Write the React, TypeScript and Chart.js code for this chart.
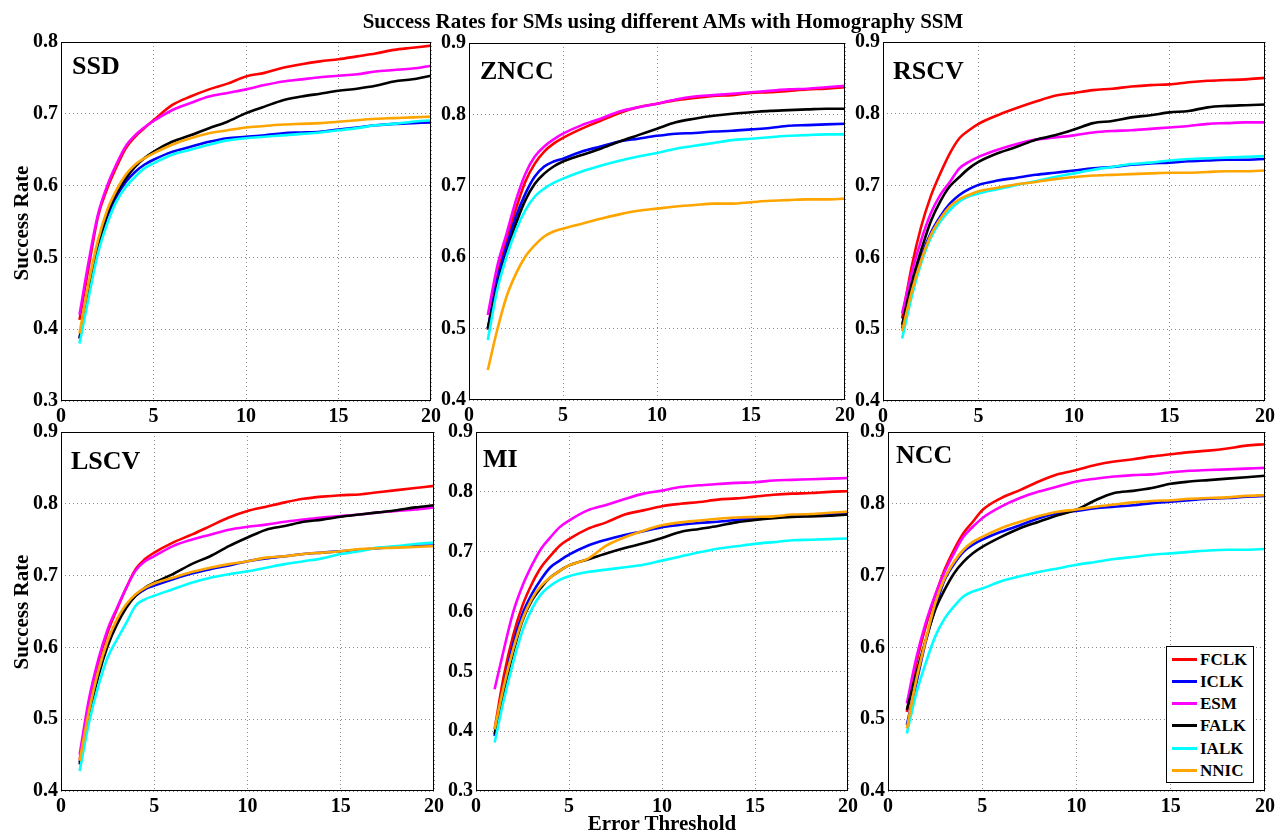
import React, { useEffect, useRef } from 'react';
import { Chart, registerables } from 'chart.js';

Chart.register(...registerables);

// ---------------- data ----------------
const THRESHOLDS = [1, 1.5, 2, 2.5, 3, 3.5, 4, 4.5, 5, 6, 7, 8, 9, 10, 11, 12, 13, 14, 15, 16, 17, 18, 19, 20];
const SERIES_NAMES = ['FCLK', 'ICLK', 'ESM', 'FALK', 'IALK', 'NNIC'];
const SERIES_COLORS = ['#ff0000', '#0000ff', '#ff00ff', '#000000', '#00ffff', '#ffa500'];
const PANEL_NAMES = ['SSD', 'ZNCC', 'RSCV', 'LSCV', 'MI', 'NCC'];
const Y_MIN = [0.3, 0.4, 0.4, 0.4, 0.3, 0.4];
const Y_MAX = [0.8, 0.9, 0.9, 0.9, 0.9, 0.9];
const X_MIN = 0;
const X_MAX = 20;
const X_TICK_STEP = 5;
const Y_TICK_STEP = 0.1;

const SSD_FCLK = [0.413, 0.487, 0.557, 0.596, 0.626, 0.652, 0.668, 0.680, 0.691, 0.712, 0.724, 0.734, 0.742, 0.752, 0.757, 0.764, 0.769, 0.773, 0.776, 0.780, 0.784, 0.789, 0.792, 0.795];
const SSD_ICLK = [0.387, 0.455, 0.515, 0.557, 0.585, 0.605, 0.619, 0.629, 0.636, 0.647, 0.654, 0.661, 0.666, 0.668, 0.670, 0.673, 0.674, 0.675, 0.678, 0.681, 0.684, 0.686, 0.687, 0.688];
const SSD_ESM = [0.420, 0.495, 0.560, 0.600, 0.630, 0.655, 0.670, 0.681, 0.690, 0.705, 0.715, 0.724, 0.729, 0.734, 0.740, 0.745, 0.748, 0.751, 0.753, 0.755, 0.759, 0.761, 0.763, 0.767];
const SSD_FALK = [0.387, 0.455, 0.515, 0.561, 0.589, 0.610, 0.626, 0.638, 0.647, 0.661, 0.670, 0.680, 0.689, 0.701, 0.710, 0.719, 0.724, 0.728, 0.732, 0.735, 0.739, 0.745, 0.748, 0.753];
const SSD_IALK = [0.380, 0.445, 0.506, 0.547, 0.578, 0.598, 0.612, 0.624, 0.631, 0.643, 0.650, 0.657, 0.663, 0.666, 0.668, 0.670, 0.672, 0.674, 0.677, 0.680, 0.684, 0.686, 0.689, 0.691];
const SSD_NNIC = [0.394, 0.465, 0.524, 0.566, 0.594, 0.615, 0.629, 0.638, 0.645, 0.657, 0.666, 0.673, 0.677, 0.681, 0.683, 0.685, 0.686, 0.687, 0.689, 0.691, 0.693, 0.694, 0.695, 0.696];

const ZNCC_FCLK = [0.498, 0.573, 0.624, 0.668, 0.706, 0.731, 0.748, 0.759, 0.767, 0.780, 0.791, 0.802, 0.810, 0.815, 0.820, 0.823, 0.826, 0.827, 0.830, 0.831, 0.833, 0.835, 0.836, 0.838];
const ZNCC_ICLK = [0.500, 0.568, 0.615, 0.657, 0.689, 0.713, 0.727, 0.734, 0.738, 0.748, 0.755, 0.762, 0.766, 0.770, 0.773, 0.774, 0.776, 0.777, 0.779, 0.781, 0.784, 0.785, 0.786, 0.787];
const ZNCC_ESM = [0.519, 0.587, 0.633, 0.680, 0.717, 0.741, 0.755, 0.765, 0.773, 0.785, 0.794, 0.804, 0.810, 0.815, 0.821, 0.825, 0.827, 0.829, 0.831, 0.833, 0.835, 0.836, 0.838, 0.840];
const ZNCC_FALK = [0.500, 0.559, 0.605, 0.647, 0.680, 0.703, 0.717, 0.727, 0.734, 0.743, 0.752, 0.762, 0.771, 0.780, 0.789, 0.794, 0.798, 0.801, 0.803, 0.805, 0.806, 0.807, 0.808, 0.808];
const ZNCC_IALK = [0.484, 0.554, 0.601, 0.638, 0.666, 0.685, 0.696, 0.704, 0.710, 0.720, 0.728, 0.735, 0.741, 0.746, 0.752, 0.756, 0.760, 0.764, 0.766, 0.768, 0.770, 0.771, 0.772, 0.772];
const ZNCC_NNIC = [0.442, 0.498, 0.545, 0.577, 0.601, 0.617, 0.629, 0.636, 0.640, 0.647, 0.654, 0.660, 0.665, 0.668, 0.671, 0.673, 0.675, 0.675, 0.677, 0.679, 0.680, 0.681, 0.681, 0.682];

const RSCV_FCLK = [0.515, 0.587, 0.643, 0.685, 0.717, 0.745, 0.766, 0.777, 0.786, 0.798, 0.808, 0.817, 0.825, 0.829, 0.833, 0.835, 0.838, 0.840, 0.841, 0.844, 0.846, 0.847, 0.848, 0.850];
const RSCV_ICLK = [0.501, 0.555, 0.601, 0.634, 0.657, 0.675, 0.687, 0.695, 0.701, 0.707, 0.711, 0.715, 0.718, 0.721, 0.724, 0.726, 0.729, 0.731, 0.732, 0.734, 0.735, 0.736, 0.736, 0.737];
const RSCV_ESM = [0.522, 0.578, 0.624, 0.661, 0.687, 0.705, 0.724, 0.733, 0.740, 0.750, 0.758, 0.764, 0.767, 0.770, 0.774, 0.776, 0.777, 0.779, 0.781, 0.783, 0.786, 0.787, 0.788, 0.788];
const RSCV_FALK = [0.506, 0.564, 0.610, 0.650, 0.678, 0.699, 0.712, 0.724, 0.733, 0.745, 0.754, 0.764, 0.770, 0.778, 0.787, 0.790, 0.795, 0.798, 0.802, 0.804, 0.809, 0.811, 0.812, 0.813];
const RSCV_IALK = [0.487, 0.545, 0.592, 0.627, 0.650, 0.666, 0.678, 0.685, 0.689, 0.695, 0.701, 0.706, 0.712, 0.717, 0.722, 0.726, 0.730, 0.732, 0.735, 0.737, 0.738, 0.739, 0.740, 0.741];
const RSCV_NNIC = [0.497, 0.552, 0.596, 0.631, 0.654, 0.671, 0.681, 0.687, 0.692, 0.697, 0.702, 0.705, 0.709, 0.712, 0.714, 0.715, 0.716, 0.717, 0.718, 0.718, 0.719, 0.720, 0.720, 0.721];

const LSCV_FCLK = [0.444, 0.523, 0.579, 0.621, 0.653, 0.683, 0.709, 0.723, 0.732, 0.746, 0.757, 0.769, 0.781, 0.790, 0.796, 0.802, 0.807, 0.810, 0.812, 0.813, 0.816, 0.819, 0.822, 0.825];
const LSCV_ICLK = [0.440, 0.508, 0.565, 0.607, 0.637, 0.658, 0.672, 0.681, 0.686, 0.695, 0.703, 0.709, 0.714, 0.720, 0.724, 0.727, 0.730, 0.732, 0.734, 0.736, 0.738, 0.740, 0.741, 0.742];
const LSCV_ESM = [0.451, 0.528, 0.583, 0.625, 0.655, 0.683, 0.707, 0.720, 0.727, 0.741, 0.750, 0.757, 0.764, 0.768, 0.771, 0.775, 0.778, 0.781, 0.783, 0.785, 0.788, 0.790, 0.792, 0.795];
const LSCV_FALK = [0.437, 0.504, 0.560, 0.602, 0.632, 0.655, 0.672, 0.683, 0.690, 0.702, 0.716, 0.727, 0.741, 0.753, 0.764, 0.769, 0.775, 0.778, 0.782, 0.785, 0.788, 0.791, 0.795, 0.798];
const LSCV_IALK = [0.428, 0.495, 0.546, 0.586, 0.611, 0.634, 0.658, 0.667, 0.672, 0.681, 0.690, 0.697, 0.702, 0.706, 0.711, 0.716, 0.720, 0.724, 0.730, 0.734, 0.739, 0.741, 0.744, 0.746];
const LSCV_NNIC = [0.442, 0.511, 0.567, 0.609, 0.639, 0.660, 0.674, 0.683, 0.689, 0.697, 0.705, 0.711, 0.716, 0.720, 0.725, 0.727, 0.730, 0.732, 0.734, 0.737, 0.738, 0.739, 0.740, 0.741];

const MI_FCLK = [0.403, 0.493, 0.560, 0.610, 0.646, 0.674, 0.693, 0.710, 0.721, 0.738, 0.749, 0.762, 0.769, 0.776, 0.780, 0.783, 0.787, 0.789, 0.792, 0.795, 0.797, 0.798, 0.800, 0.801];
const MI_ICLK = [0.392, 0.476, 0.546, 0.596, 0.629, 0.654, 0.674, 0.685, 0.695, 0.710, 0.720, 0.728, 0.734, 0.741, 0.745, 0.748, 0.750, 0.753, 0.756, 0.758, 0.759, 0.760, 0.762, 0.763];
const MI_ESM = [0.470, 0.537, 0.599, 0.643, 0.677, 0.705, 0.724, 0.741, 0.752, 0.769, 0.778, 0.788, 0.797, 0.802, 0.808, 0.811, 0.813, 0.815, 0.816, 0.819, 0.820, 0.821, 0.822, 0.823];
const MI_FALK = [0.395, 0.467, 0.532, 0.585, 0.618, 0.640, 0.657, 0.668, 0.677, 0.687, 0.697, 0.706, 0.714, 0.723, 0.733, 0.738, 0.743, 0.749, 0.753, 0.756, 0.758, 0.759, 0.760, 0.762];
const MI_IALK = [0.381, 0.453, 0.515, 0.568, 0.604, 0.629, 0.643, 0.653, 0.659, 0.666, 0.670, 0.674, 0.678, 0.685, 0.692, 0.699, 0.705, 0.709, 0.713, 0.716, 0.719, 0.720, 0.721, 0.722];
const MI_NNIC = [0.403, 0.476, 0.537, 0.587, 0.621, 0.643, 0.657, 0.668, 0.677, 0.688, 0.710, 0.724, 0.735, 0.744, 0.749, 0.752, 0.755, 0.757, 0.758, 0.759, 0.762, 0.763, 0.765, 0.767];

const NCC_FCLK = [0.510, 0.578, 0.629, 0.671, 0.708, 0.736, 0.759, 0.775, 0.791, 0.808, 0.819, 0.831, 0.841, 0.847, 0.854, 0.859, 0.862, 0.866, 0.869, 0.872, 0.874, 0.877, 0.881, 0.883];
const NCC_ICLK = [0.492, 0.550, 0.608, 0.655, 0.694, 0.716, 0.733, 0.743, 0.750, 0.761, 0.770, 0.780, 0.787, 0.790, 0.794, 0.796, 0.798, 0.801, 0.803, 0.805, 0.807, 0.808, 0.810, 0.811];
const NCC_ESM = [0.522, 0.585, 0.634, 0.673, 0.705, 0.731, 0.754, 0.768, 0.780, 0.796, 0.808, 0.817, 0.824, 0.831, 0.835, 0.838, 0.840, 0.841, 0.844, 0.846, 0.847, 0.848, 0.849, 0.850];
const NCC_FALK = [0.513, 0.564, 0.610, 0.652, 0.680, 0.703, 0.719, 0.731, 0.740, 0.754, 0.766, 0.775, 0.784, 0.792, 0.805, 0.815, 0.818, 0.822, 0.828, 0.831, 0.833, 0.835, 0.837, 0.839];
const NCC_IALK = [0.480, 0.536, 0.578, 0.615, 0.640, 0.657, 0.671, 0.678, 0.682, 0.692, 0.699, 0.705, 0.710, 0.715, 0.719, 0.723, 0.726, 0.729, 0.731, 0.733, 0.735, 0.736, 0.736, 0.737];
const NCC_NNIC = [0.487, 0.555, 0.610, 0.661, 0.696, 0.719, 0.736, 0.747, 0.754, 0.766, 0.775, 0.783, 0.789, 0.792, 0.796, 0.799, 0.802, 0.804, 0.805, 0.807, 0.808, 0.809, 0.811, 0.812];

const PANEL_DATA = [
  [SSD_FCLK, SSD_ICLK, SSD_ESM, SSD_FALK, SSD_IALK, SSD_NNIC],
  [ZNCC_FCLK, ZNCC_ICLK, ZNCC_ESM, ZNCC_FALK, ZNCC_IALK, ZNCC_NNIC],
  [RSCV_FCLK, RSCV_ICLK, RSCV_ESM, RSCV_FALK, RSCV_IALK, RSCV_NNIC],
  [LSCV_FCLK, LSCV_ICLK, LSCV_ESM, LSCV_FALK, LSCV_IALK, LSCV_NNIC],
  [MI_FCLK, MI_ICLK, MI_ESM, MI_FALK, MI_IALK, MI_NNIC],
  [NCC_FCLK, NCC_ICLK, NCC_ESM, NCC_FALK, NCC_IALK, NCC_NNIC],
];

const TITLE = 'Success Rates for SMs using different AMs with Homography SSM';
const Y_LABEL = 'Success Rate';
const X_LABEL = 'Error Threshold';

// ---------------- layout ----------------
const FONT = 'Liberation Serif, Times New Roman, serif';
const PLOT_RECTS = [
  { l: 61, t: 42, r: 431, b: 401 },
  { l: 469, t: 43, r: 845, b: 400 },
  { l: 883, t: 42, r: 1265, b: 401 },
  { l: 61, t: 432, r: 434, b: 791 },
  { l: 476, t: 432, r: 848, b: 791 },
  { l: 888, t: 432, r: 1265, b: 791 },
];
const LABEL_OFFSETS = [
  { dx: 11, dy: 32 },
  { dx: 11, dy: 36 },
  { dx: 10, dy: 37 },
  { dx: 10, dy: 37 },
  { dx: 7, dy: 35 },
  { dx: 8, dy: 31 },
];
const ML = 60;
const MT = 15;
const MR = 24;
const MB = 35;

function makeFramePlugin(idx: number) {
  return {
    id: 'frame' + idx,
    afterDraw(chart: any) {
      const { ctx, chartArea } = chart;
      ctx.save();
      ctx.strokeStyle = '#000';
      ctx.lineWidth = 1;
      ctx.setLineDash([]);
      const l = Math.round(chartArea.left) + 0.5;
      const t = Math.round(chartArea.top) + 0.5;
      const r = Math.round(chartArea.right) - 0.5;
      const b = Math.round(chartArea.bottom) - 0.5;
      ctx.strokeRect(l, t, r - l, b - t);
      ctx.fillStyle = '#000';
      ctx.font = 'bold 26px ' + FONT;
      ctx.textBaseline = 'alphabetic';
      ctx.textAlign = 'left';
      ctx.fillText(PANEL_NAMES[idx], chartArea.left + LABEL_OFFSETS[idx].dx, chartArea.top + LABEL_OFFSETS[idx].dy);
      ctx.restore();
    },
  };
}

function Panel({ idx }: { idx: number }) {
  const ref = useRef<HTMLCanvasElement | null>(null);
  const rect = PLOT_RECTS[idx];
  const w = rect.r - rect.l + ML + MR;
  const h = rect.b - rect.t + MT + MB;

  useEffect(() => {
    if (!ref.current) return;
    const tickFont = { family: FONT, size: 20, weight: 'bold' as const };
    const gridOpts = { color: 'rgba(0,0,0,0.45)', lineWidth: 1, drawTicks: false };
    const borderOpts = { display: false, dash: [1, 3] };
    const chart = new Chart(ref.current, {
      type: 'line',
      data: {
        datasets: SERIES_NAMES.map((name, i) => ({
          label: name,
          data: THRESHOLDS.map((x, k) => ({ x, y: PANEL_DATA[idx][i][k] })),
          borderColor: SERIES_COLORS[i],
          backgroundColor: SERIES_COLORS[i],
          borderWidth: 2.6,
          pointRadius: 0,
          pointHoverRadius: 0,
          fill: false,
          cubicInterpolationMode: 'monotone' as const,
          order: SERIES_NAMES.length - i,
        })),
      },
      options: {
        responsive: false,
        animation: false,
        events: [],
        layout: { padding: { left: 0, top: MT, right: MR, bottom: 0 } },
        plugins: {
          legend: { display: false },
          tooltip: { enabled: false },
          title: { display: false },
        },
        scales: {
          x: {
            type: 'linear',
            min: X_MIN,
            max: X_MAX,
            ticks: {
              stepSize: X_TICK_STEP,
              font: tickFont,
              color: '#000',
              padding: 4,
              maxRotation: 0,
              autoSkip: false,
              callback: (v: any) => String(v),
            },
            grid: gridOpts,
            border: borderOpts,
            afterFit: (s: any) => {
              s.height = MB;
            },
          },
          y: {
            type: 'linear',
            min: Y_MIN[idx],
            max: Y_MAX[idx],
            ticks: {
              stepSize: Y_TICK_STEP,
              font: tickFont,
              color: '#000',
              padding: 3,
              autoSkip: false,
              callback: (v: any) => Number(v).toFixed(1),
            },
            grid: gridOpts,
            border: borderOpts,
            afterFit: (s: any) => {
              s.width = ML;
            },
          },
        },
      } as any,
      plugins: [makeFramePlugin(idx)],
    });
    return () => chart.destroy();
  }, [idx]);

  return (
    <canvas
      ref={ref}
      width={w}
      height={h}
      style={{ position: 'absolute', left: rect.l - ML, top: rect.t - MT, width: w, height: h }}
    />
  );
}

function Legend() {
  const left = 1166;
  const top = 646;
  return (
    <div
      style={{
        position: 'absolute',
        left,
        top,
        width: 88,
        height: 137,
        boxSizing: 'border-box',
        border: '1px solid #000',
        background: '#fff',
      }}
    >
      {SERIES_NAMES.map((name, i) => {
        const cy = 12 + i * 22.3;
        return (
          <React.Fragment key={name}>
            <div
              style={{
                position: 'absolute',
                left: 5,
                top: cy - 1.5,
                width: 25,
                height: 3,
                background: SERIES_COLORS[i],
              }}
            />
            <div
              style={{
                position: 'absolute',
                left: 33,
                top: cy - 8.5,
                fontFamily: FONT,
                fontWeight: 'bold',
                fontSize: 17,
                lineHeight: '17px',
                color: '#000',
                whiteSpace: 'nowrap',
              }}
            >
              {name}
            </div>
          </React.Fragment>
        );
      })}
    </div>
  );
}

const textBase: React.CSSProperties = {
  position: 'absolute',
  fontFamily: FONT,
  fontWeight: 'bold',
  fontSize: 21,
  lineHeight: '21px',
  color: '#000',
  whiteSpace: 'nowrap',
};

export default function App() {
  return (
    <div style={{ position: 'absolute', left: 0, top: 0, width: 1279, height: 833, background: '#fff', overflow: 'hidden' }}>
      {PLOT_RECTS.map((_, i) => (
        <Panel key={i} idx={i} />
      ))}
      <div style={{ ...textBase, left: 663, top: 11, transform: 'translateX(-50%)' }}>{TITLE}</div>
      <div style={{ ...textBase, left: 20.5, top: 223, transform: 'translate(-50%, -50%) rotate(-90deg)' }}>{Y_LABEL}</div>
      <div style={{ ...textBase, left: 20.5, top: 612, transform: 'translate(-50%, -50%) rotate(-90deg)' }}>{Y_LABEL}</div>
      <div style={{ ...textBase, left: 662, top: 813, transform: 'translateX(-50%)' }}>{X_LABEL}</div>
      <Legend />
    </div>
  );
}
